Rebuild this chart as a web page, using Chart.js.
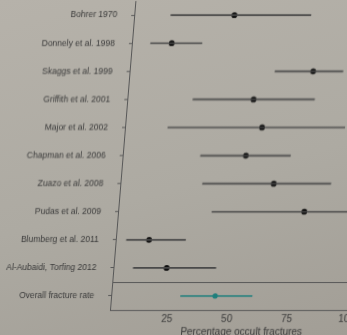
<!DOCTYPE html>
<html>
<head>
<meta charset="utf-8">
<script src="https://cdn.jsdelivr.net/npm/chart.js@4.4.1/dist/chart.umd.min.js"></script>
<style>
  html, body { margin: 0; padding: 0; width: 347px; height: 335px; overflow: hidden; }
  body { background: linear-gradient(165deg, #b6b2aa 0%, #adaaa2 55%, #a29e96 100%); }
  #wrap {
    position: absolute; left: 0; top: -18px; width: 380px; height: 356px;
    transform-origin: 110px 328px;
    transform: skewX(-4.7deg);
  }
</style>
</head>
<body>
<div id="wrap"><canvas id="c" width="380" height="356"></canvas></div>
<script>
// Studies reporting occult fractures, with the pooled rate as the last row
const studies = [
  "Bohrer 1970",
  "Donnely et al. 1998",
  "Skaggs et al. 1999",
  "Griffith et al. 2001",
  "Major et al. 2002",
  "Chapman et al. 2006",
  "Zuazo et al. 2008",
  "Pudas et al. 2009",
  "Blumberg et al. 2011",
  "Al-Aubaidi, Torfing 2012",
  "Overall fracture rate"
];
// Point estimate and confidence limits (percentage occult fractures)
const estimate = [42.8, 17.6, 77.6, 53.7, 58.2, 52.4, 65.0, 78.7, 14.9, 23.2, 44.4];
const lower    = [16.3,  8.8, 61.7, 28.4, 18.9, 33.5, 35.3, 40.2,  5.5,  9.3, 30.0];
const upper    = [74.7, 30.2, 90.0, 79.1, 92.7, 71.0, 88.8, 100.0, 30.1, 43.7, 59.8];
const xTicks   = [25, 50, 75, 100];

const ink = "#383838";
const rule = "#575757";
const teal = "#1f7f7c";
const lastIdx = studies.length - 1;

// Horizontal rule separating the pooled estimate from the individual studies
const separator = {
  id: "separator",
  afterDatasetsDraw(chart) {
    const { ctx, chartArea, scales } = chart;
    const y = (scales.y.getPixelForValue(lastIdx - 1) + scales.y.getPixelForValue(lastIdx)) / 2;
    ctx.save();
    ctx.strokeStyle = rule;
    ctx.lineWidth = 1;
    ctx.beginPath();
    ctx.moveTo(chartArea.left, Math.round(y) + 0.5);
    ctx.lineTo(chartArea.right, Math.round(y) + 0.5);
    ctx.stroke();
    ctx.restore();
  }
};

new Chart(document.getElementById("c"), {
  type: "bar",
  data: {
    labels: studies,
    datasets: [
      {
        type: "bar",
        data: studies.map((_, i) => [lower[i], upper[i]]),
        backgroundColor: studies.map((_, i) => i === lastIdx ? teal : "#474747"),
        borderWidth: 0,
        barThickness: studies.map((_, i) => i === lastIdx ? 2.5 : 1),
        xAxisID: "x",
        yAxisID: "y"
      },
      {
        type: "scatter",
        data: studies.map((s, i) => ({ x: estimate[i], y: s })),
        pointRadius: studies.map((_, i) => i === lastIdx ? 2.6 : 2.9),
        pointBackgroundColor: studies.map((_, i) => i === lastIdx ? teal : "#0d0d0d"),
        pointBorderWidth: 0,
        xAxisID: "x",
        yAxisID: "y"
      }
    ]
  },
  options: {
    indexAxis: "y",
    responsive: false,
    animation: false,
    layout: { padding: { top: 0, right: 0, bottom: 0, left: 0 } },
    plugins: { legend: { display: false }, tooltip: { enabled: false } },
    scales: {
      x: {
        type: "linear",
        min: 1,
        max: 112,
        afterBuildTicks(scale) { scale.ticks = xTicks.map(v => ({ value: v })); },
        afterFit(scale) { scale.height = 28; },
        grid: { display: false, drawTicks: false },
        border: { display: true, color: rule, width: 1 },
        ticks: { color: ink, padding: 3, font: { family: "Liberation Sans", size: 10 } },
        title: {
          display: true,
          text: "Percentage occult fractures",
          color: ink,
          padding: { top: 0, bottom: 0 },
          font: { family: "Liberation Sans", size: 10 }
        }
      },
      y: {
        type: "category",
        offset: true,
        afterFit(scale) { scale.width = 110; },
        grid: { offset: false, drawOnChartArea: false, tickLength: 3, tickColor: rule },
        border: { display: true, color: rule, width: 1 },
        ticks: { color: ink, padding: 14, font: { family: "Liberation Sans", size: 8.5 } }
      }
    }
  },
  plugins: [separator]
});
</script>
</body>
</html>
